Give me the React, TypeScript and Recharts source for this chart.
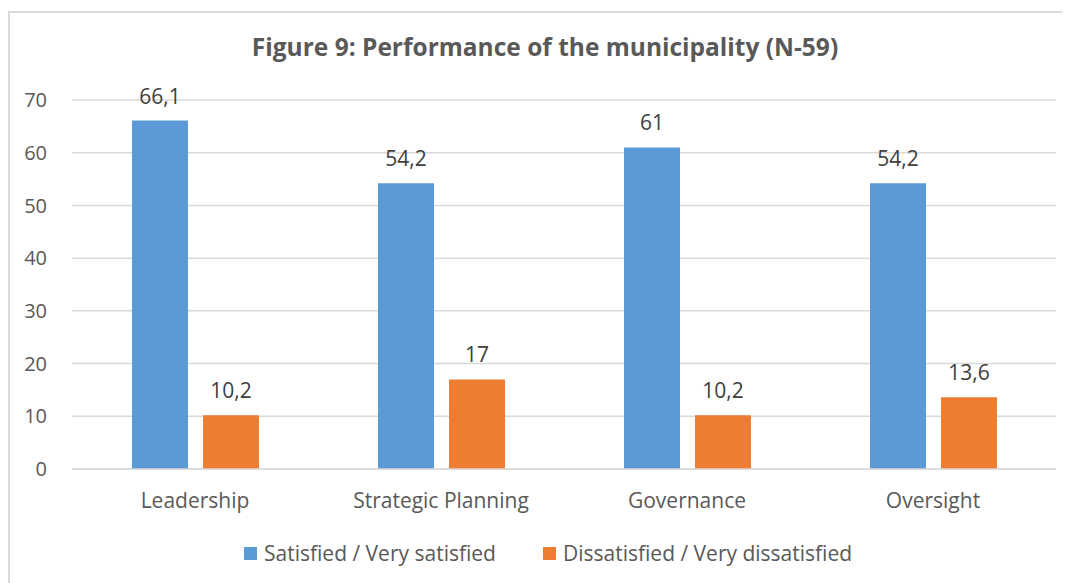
import React from 'react';
import { BarChart, Bar, XAxis, YAxis, CartesianGrid, LabelList } from 'recharts';

const categories = ['Leadership', 'Strategic Planning', 'Governance', 'Oversight'];
const satisfied = [66.1, 54.2, 61, 54.2];
const dissatisfied = [10.2, 17, 10.2, 13.6];
const yTicks = [0, 10, 20, 30, 40, 50, 60, 70];

const SERIES = [
  { key: 'satisfied', name: 'Satisfied / Very satisfied', color: '#5B9BD5' },
  { key: 'dissatisfied', name: 'Dissatisfied / Very dissatisfied', color: '#ED7D31' },
];

const FONT = '"Open Sans", sans-serif';
const TEXT = '#595959';

const data = categories.map((name, i) => ({
  name,
  satisfied: satisfied[i],
  dissatisfied: dissatisfied[i],
}));

// comma decimal like the original
const fmt = (v: number) => String(v).replace('.', ',');

export default function App() {
  return (
    <div
      style={{
        position: 'relative',
        width: 1054,
        height: 575,
        fontFamily: FONT,
      }}
    >
      <style>{'body{overflow:hidden}'}</style>
      {/* frame: top + left edges only, the right edge runs off the page */}
      <div style={{ position: 'absolute', left: 0, top: 3, width: 1062, height: 2, background: '#d9d9d9' }} />
      <div style={{ position: 'absolute', left: 0, top: 3, width: 2, height: 572, background: '#d9d9d9' }} />
      <div
        style={{
          position: 'absolute',
          left: 0,
          width: 1062,
          top: 22,
          textAlign: 'center',
          fontSize: 24.5,
          fontWeight: 'bold',
          color: TEXT,
          paddingLeft: 12,
          boxSizing: 'border-box',
          whiteSpace: 'nowrap',
        }}
      >
        Figure 9: Performance of the municipality (N-59)
      </div>
      <div style={{ position: 'absolute', left: 0, top: 0 }}>
        <BarChart
          width={1054}
          height={575}
          data={data}
          margin={{ top: 92, right: 6, bottom: 84, left: 0 }}
          barCategoryGap={60}
          barGap={15}
        >
          <CartesianGrid vertical={false} stroke="#d9d9d9" strokeWidth={1.5} />
          <XAxis
            dataKey="name"
            axisLine={{ stroke: '#d9d9d9', strokeWidth: 1.5 }}
            tickLine={false}
            tickMargin={18}
            tick={{ fill: TEXT, fontSize: 21, fontFamily: FONT }}
            interval={0}
          />
          <YAxis
            width={64}
            domain={[0, 70]}
            ticks={yTicks}
            axisLine={false}
            tickLine={false}
            tickMargin={19}
            tick={{ fill: TEXT, fontSize: 20, fontFamily: FONT }}
          />
          {SERIES.map((s) => (
            <Bar key={s.key} dataKey={s.key} name={s.name} fill={s.color} isAnimationActive={false}>
              <LabelList
                dataKey={s.key}
                position="top"
                offset={17}
                formatter={(v: number) => fmt(v)}
                style={{ fill: '#404040', fontSize: 21, fontFamily: FONT }}
              />
            </Bar>
          ))}
        </BarChart>
      </div>
      <div
        style={{
          position: 'absolute',
          left: 236,
          top: 531,
          display: 'flex',
          alignItems: 'center',
          fontSize: 21,
          color: TEXT,
          whiteSpace: 'nowrap',
        }}
      >
        {SERIES.map((s, i) => (
          <div key={s.key} style={{ display: 'flex', alignItems: 'center', marginRight: i === 0 ? 47 : 0 }}>
            <span style={{ display: 'inline-block', width: 13, height: 13, background: s.color, marginRight: 7 }} />
            <span>{s.name}</span>
          </div>
        ))}
      </div>
    </div>
  );
}
